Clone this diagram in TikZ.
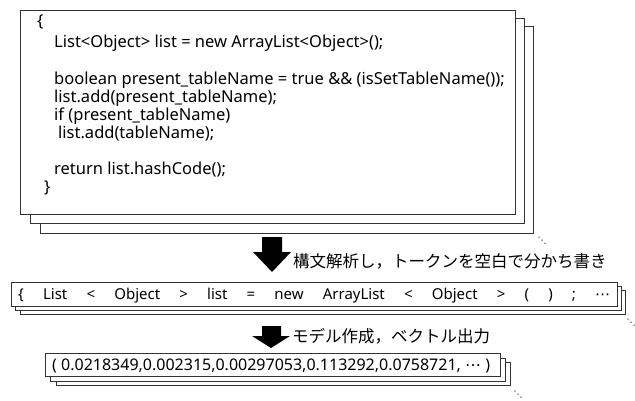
\documentclass[tikz,border=0pt]{standalone}
\usepackage{fontspec}
\setmainfont{Noto Sans}
\newfontfamily\jpfont{Noto Sans CJK JP}
\newfontfamily\dotsfont{DejaVu Sans}
\newcommand{\cdotsmid}{{\dotsfont ⋯}}
\begin{document}
\begin{tikzpicture}[x=1pt,y=-1pt,
  layer/.style={draw=black!80,fill=white,line width=0.8pt},
  codeline/.style={anchor=base west,inner sep=0pt,font=\fontsize{16.5}{18}\selectfont},
  lbl/.style={anchor=west,inner sep=0pt,font=\jpfont\fontsize{16.5}{18}\selectfont},
  more/.style={inner sep=0pt,font=\dotsfont\fontsize{9}{9}\selectfont},
  blockarrow/.style={fill=black}]
\useasboundingbox (0,0) rectangle (635,401);
% box 1 stack
\draw[layer] (40,26) rectangle (533,233);
\draw[layer] (30,18) rectangle (524,223);
\draw[layer] (20,10) rectangle (515,214);
\node[codeline] (l1) at (37,27) {\{};
\node[codeline] (l2) at (54,48) {List<Object> list = new ArrayList<Object>();};
\node[codeline] (l3) at (54,85) {boolean present\_tableName = true \&\& (isSetTableName());};
\node[codeline] (l4) at (54,103) {list.add(present\_tableName);};
\node[codeline] (l5) at (54,121) {if (present\_tableName)};
\node[codeline] (l6) at (58,139) {list.add(tableName);};
\node[codeline] (l7) at (54,175) {return list.hashCode();};
\node[codeline] (l8) at (44,193) {\}};
\node[more] (d1) at (542,241) {⋱};
% arrow 1
\fill[blockarrow] (262,237) -- (282,237) -- (282,252) -- (291,252) -- (272,272) -- (253,252) -- (262,252) -- cycle;
\node[lbl] (t1) at (293,261) {構文解析し，トークンを空白で分かち書き};
% box 2 stack
\draw[layer] (20,290) rectangle (625,314);
\draw[layer] (15,286) rectangle (621,310);
\draw[layer] (11,282) rectangle (617,306);
\node[codeline,font=\fontsize{15}{16}\selectfont] (tok) at (18,299.5) {\makebox[592pt][s]{\{\hfill List\hfill <\hfill Object\hfill >\hfill list\hfill =\hfill new\hfill ArrayList\hfill <\hfill Object\hfill >\hfill (\hfill )\hfill ;\hfill \cdotsmid}};
\node[more] (d2) at (631,323) {⋱};
% arrow 2
\fill[blockarrow] (262,326) -- (281,326) -- (281,336) -- (290,336) -- (271,348) -- (252,336) -- (262,336) -- cycle;
\node[lbl] (t2) at (292,336) {モデル作成，ベクトル出力};
% box 3 stack
\draw[layer] (56,362) rectangle (510,385);
\draw[layer] (50,358) rectangle (505,381);
\draw[layer] (45,353) rectangle (500,376);
\node[codeline,font=\fontsize{16}{17}\selectfont] (vec) at (52,370.5) {( 0.0218349,0.002315,0.00297053,0.113292,0.0758721, \cdotsmid\ )};
\node[more] (d3) at (518,395) {⋱};
\end{tikzpicture}
\end{document}
